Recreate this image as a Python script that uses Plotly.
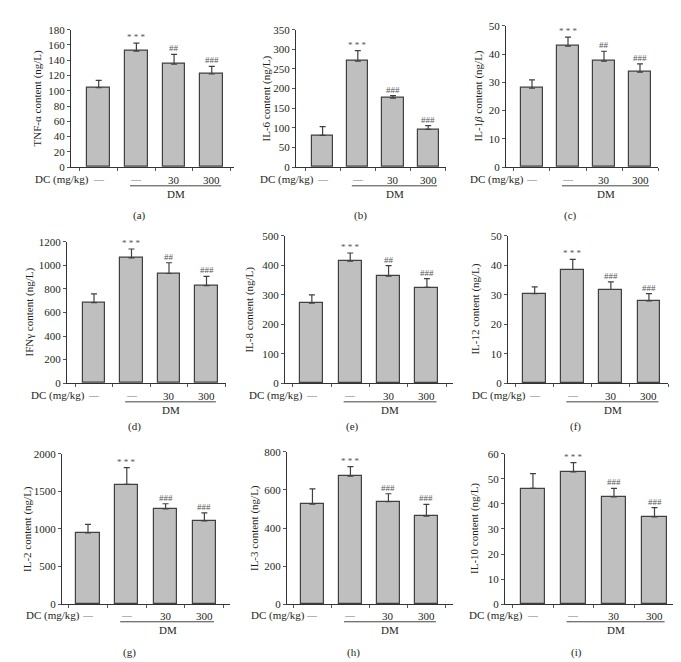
import plotly.graph_objects as go

W, H = 681, 662

groups = ["Control", "DM", "DM+DC30", "DM+DC300"]
dc_labels = ["—", "—", "30", "300"]

titles = ["TNF-α content (ng/L)", "IL-6 content (ng/L)", "IL-1<i>β</i> content (ng/L)",
          "IFNγ content (ng/L)", "IL-8 content (ng/L)", "IL-12 content (ng/L)",
          "IL-2 content (ng/L)", "IL-3 content (ng/L)", "IL-10 content (ng/L)"]
panel_letters = ["(a)", "(b)", "(c)", "(d)", "(e)", "(f)", "(g)", "(h)", "(i)"]

tnf_a = [104, 152, 135, 122]
tnf_a_err = [9.6, 10.4, 12.6, 10]
il_6 = [81, 270, 176, 96]
il_6_err = [22, 27, 6, 10]
il_1b = [27.9, 42.8, 37.5, 33.6]
il_1b_err = [3.0, 3.2, 3.5, 2.9]
ifn_g = [683, 1064, 931, 828]
ifn_g_err = [75, 75, 91, 78]
il_8 = [272, 414, 363, 325]
il_8_err = [28, 28, 36, 30]
il_12 = [30.4, 38.6, 31.8, 27.9]
il_12_err = [2.3, 3.4, 2.6, 2.5]
il_2 = [948, 1594, 1266, 1109]
il_2_err = [113, 223, 70, 105]
il_3 = [525, 673, 539, 462]
il_3_err = [81, 50, 41, 62]
il_10 = [46.2, 52.8, 42.8, 34.8]
il_10_err = [5.9, 3.7, 3.4, 3.7]

sig_labels = [
    ["", "* * *", "##", "###"],
    ["", "* * *", "###", "###"],
    ["", "* * *", "##", "###"],
    ["", "* * *", "##", "###"],
    ["", "* * *", "##", "###"],
    ["", "* * *", "###", "###"],
    ["", "* * *", "###", "###"],
    ["", "* * *", "###", "###"],
    ["", "* * *", "###", "###"],
]

values = [tnf_a, il_6, il_1b, ifn_g, il_8, il_12, il_2, il_3, il_10]
errors = [tnf_a_err, il_6_err, il_1b_err, ifn_g_err, il_8_err, il_12_err, il_2_err, il_3_err, il_10_err]
y_max = [180, 350, 50, 1200, 500, 50, 2000, 800, 60]
y_dtick = [20, 50, 10, 200, 100, 10, 500, 200, 10]

# layout geometry in pixels: axis left, axis right, plot top, plot bottom
geo = [
    (63, 226, 16, 156), (288, 438, 16, 156), (498, 650, 12, 156),
    (59, 218, 232, 376), (277, 445, 226, 376), (500, 660, 226, 376),
    (54, 222, 448, 601), (279, 445, 446, 601), (497, 670, 448, 601),
]
x_ranges = [
    [-0.735, 3.59], [-0.756, 3.506], [-0.722, 3.5],
    [-0.72, 3.52], [-0.70, 3.68], [-0.70, 3.5],
    [-0.67, 3.66], [-0.67, 3.70], [-0.69, 3.58],
]
ytitle_off = [34, 30, 28, 38, 35, 32, 34, 33, 30]
row_label_y = [(169, 175, 183, 205), (389, 395, 403, 420), (613, 619, 627, 650)]

FONT = "Liberation Serif"
TXT = "#231f20"
fig = go.Figure()
annotations = []
shapes = []

for i in range(9):
    n = i + 1
    xa = "x" if n == 1 else f"x{n}"
    ya = "y" if n == 1 else f"y{n}"
    left, right, top, bottom = geo[i]
    fig.add_trace(go.Bar(
        x=list(range(4)), y=values[i], width=0.6,
        marker=dict(color="#bfbfbf", line=dict(color="#404040", width=1.2)),
        error_y=dict(type="data", symmetric=False, array=errors[i],
                     arrayminus=[0] * 4, color="#404040", thickness=1.2, width=3),
        xaxis=xa, yaxis=ya, showlegend=False, hoverinfo="skip",
    ))
    xkey = "xaxis" if n == 1 else f"xaxis{n}"
    ykey = "yaxis" if n == 1 else f"yaxis{n}"
    fig.layout[xkey] = dict(
        domain=[left / W, right / W], range=x_ranges[i], anchor=ya,
        showgrid=False, zeroline=False, showline=True, linecolor="#333", linewidth=1,
        tickmode="array", tickvals=[-0.5, 0.5, 1.5, 2.5, 3.5], ticktext=[""] * 5,
        ticks="outside", ticklen=3, tickcolor="#555", tickwidth=1, fixedrange=True,
    )
    fig.layout[ykey] = dict(
        domain=[(H - bottom) / H, (H - top) / H], range=[0, y_max[i]], anchor=xa,
        dtick=y_dtick[i], showgrid=False, zeroline=False, showline=True,
        linecolor="#333", linewidth=1, ticks="outside", ticklen=3, tickcolor="#555",
        tickfont=dict(family=FONT, size=11, color=TXT), fixedrange=True,
    )
    row = i // 3
    dc_y, line_y, dm_y, let_y = row_label_y[row]
    annotations.append(dict(
        text=titles[i], xref="paper", yref="paper",
        x=(left - ytitle_off[i]) / W, y=(H - (top + bottom) / 2) / H,
        textangle=-90, showarrow=False, xanchor="center", yanchor="middle",
        font=dict(family=FONT, size=11, color=TXT),
    ))
    annotations.append(dict(
        text="DC (mg/kg)", xref="paper", yref="paper",
        x=(left - 38) / W, y=(H - dc_y) / H, showarrow=False,
        xanchor="left", yanchor="middle", font=dict(family=FONT, size=11, color=TXT),
    ))
    for k, lab in enumerate(dc_labels):
        annotations.append(dict(
            text=lab, xref=xa, yref="paper", x=k, y=(H - dc_y) / H, showarrow=False,
            xanchor="center", yanchor="middle",
            font=dict(family=FONT, size=11 if lab != "—" else 10,
                      color="#777" if lab == "—" else TXT),
        ))
    shapes.append(dict(type="line", xref=xa, yref="paper", x0=0.83, x1=3.25,
                       y0=(H - line_y) / H, y1=(H - line_y) / H,
                       line=dict(color="#444", width=1)))
    annotations.append(dict(
        text="DM", xref=xa, yref="paper", x=2.05, y=(H - dm_y) / H, showarrow=False,
        xanchor="center", yanchor="middle", font=dict(family=FONT, size=11, color=TXT),
    ))
    annotations.append(dict(
        text=panel_letters[i], xref=xa, yref="paper", x=1.07, y=(H - let_y) / H,
        showarrow=False, xanchor="center", yanchor="middle",
        font=dict(family=FONT, size=11, color=TXT),
    ))
    for k, s in enumerate(sig_labels[i]):
        if s:
            annotations.append(dict(
                text=s, xref=xa, yref=ya, x=k, y=values[i][k] + errors[i][k],
                showarrow=False, xanchor="center", yanchor="bottom", yshift=-1,
                font=dict(family=FONT, size=9, color="#555"),
            ))

fig.update_layout(
    width=W, height=H, margin=dict(l=0, r=0, t=0, b=0),
    paper_bgcolor="white", plot_bgcolor="white",
    annotations=annotations, shapes=shapes, bargap=0,
)
fig.write_html("out.html")
